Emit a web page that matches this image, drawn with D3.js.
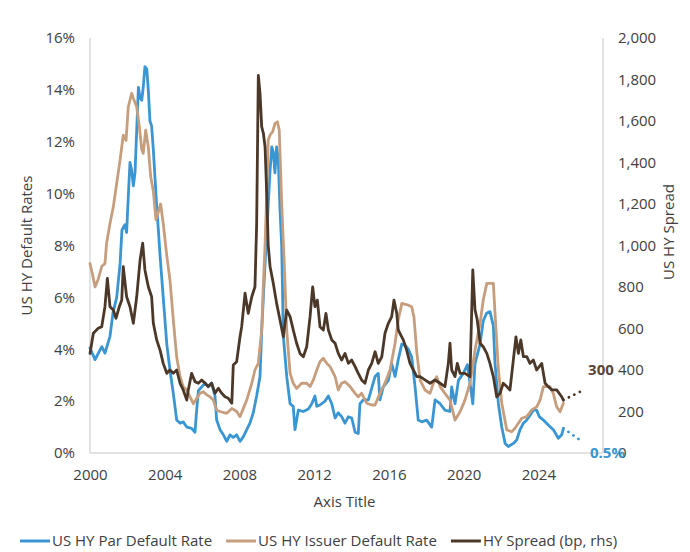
<!DOCTYPE html>
<html>
<head>
<meta charset="utf-8">
<script src="https://cdn.jsdelivr.net/npm/d3@7"></script>
<style>
  html, body { margin: 0; padding: 0; background: #ffffff; }
  svg { display: block; }
  text { font-family: "Open Sans", "Noto Sans", sans-serif; }
</style>
</head>
<body>
<svg id="chart" width="690" height="552"></svg>
<script>
// US high-yield default rates (left axis, %) and HY spread (right axis, bp)

const parDates = [2000.00,2000.27,2000.63,2000.80,2001.07,2001.23,2001.43,2001.61,2001.71,2001.87,2001.96,2002.05,2002.14,2002.23,2002.32,2002.41,2002.50,2002.59,2002.68,2002.77,2002.85,2002.94,2003.04,2003.12,2003.21,2003.30,2003.39,2003.57,2003.66,2003.75,2003.92,2004.11,2004.28,2004.46,2004.64,2004.82,2004.99,2005.18,2005.44,2005.62,2005.71,2005.80,2005.98,2006.16,2006.33,2006.51,2006.69,2006.78,2006.96,2007.14,2007.32,2007.49,2007.67,2007.85,2008.03,2008.21,2008.39,2008.56,2008.74,2008.92,2009.10,2009.19,2009.37,2009.64,2009.73,2009.81,2009.90,2009.99,2010.08,2010.17,2010.26,2010.35,2010.53,2010.71,2010.88,2010.97,2011.15,2011.42,2011.69,2011.87,2012.04,2012.14,2012.31,2012.58,2012.76,2012.94,2013.12,2013.29,2013.47,2013.65,2013.83,2014.01,2014.19,2014.36,2014.45,2014.63,2014.90,2015.26,2015.43,2015.52,2015.70,2015.97,2016.15,2016.33,2016.50,2016.69,2016.86,2017.04,2017.22,2017.40,2017.57,2017.76,2018.02,2018.29,2018.47,2018.74,2019.00,2019.27,2019.36,2019.54,2019.72,2019.98,2020.20,2020.34,2020.49,2020.61,2020.88,2021.05,2021.24,2021.41,2021.59,2021.68,2021.86,2022.04,2022.22,2022.39,2022.66,2022.84,2023.02,2023.20,2023.38,2023.55,2023.73,2023.91,2024.05,2024.27,2024.53,2024.80,2025.07,2025.25,2025.34];
const parRates = [4.05,3.6,4.1,3.85,4.5,5.4,6.0,7.3,8.6,8.8,8.5,9.9,11.2,10.9,10.3,10.8,12.45,14.1,13.7,13.6,14.1,14.9,14.8,14.0,12.8,12.6,11.7,9.5,8.6,7.6,6.0,4.2,3.2,2.3,1.27,1.15,1.2,1.0,0.95,0.8,1.65,2.4,2.55,2.7,2.55,2.7,2.2,1.27,0.9,0.7,0.45,0.7,0.6,0.7,0.45,0.63,0.9,1.15,1.55,2.2,2.95,4.7,7.3,10.9,11.8,11.6,10.8,11.8,11.3,9.4,8.0,4.5,2.95,1.9,1.8,0.9,1.65,1.6,1.7,1.9,2.2,1.8,1.85,2.0,2.2,1.9,1.35,1.55,1.4,1.15,1.4,1.35,0.8,0.75,1.9,2.05,2.05,2.95,3.07,2.05,2.55,2.8,3.45,2.95,3.6,4.2,4.15,4.0,3.7,2.55,1.27,1.2,1.27,1.0,2.05,1.9,1.65,1.6,2.55,1.9,2.8,3.07,3.4,2.7,1.9,3.45,4.2,5.1,5.4,5.45,4.9,3.45,1.9,1.0,0.37,0.25,0.37,0.5,0.9,1.15,1.27,1.45,1.65,1.65,1.4,1.27,1.08,0.9,0.57,0.7,0.95];

const issuerDates = [2000.00,2000.13,2000.27,2000.44,2000.63,2000.80,2000.89,2001.07,2001.25,2001.43,2001.61,2001.78,2001.93,2002.05,2002.23,2002.32,2002.50,2002.64,2002.77,2002.85,2002.98,2003.12,2003.25,2003.39,2003.53,2003.66,2003.78,2003.92,2004.11,2004.28,2004.46,2004.64,2004.82,2004.99,2005.18,2005.35,2005.53,2005.71,2005.89,2006.07,2006.25,2006.42,2006.60,2006.78,2006.96,2007.32,2007.59,2007.85,2008.03,2008.21,2008.39,2008.66,2008.83,2009.01,2009.19,2009.28,2009.37,2009.46,2009.54,2009.64,2009.78,2009.90,2010.03,2010.13,2010.26,2010.39,2010.53,2010.71,2010.88,2011.06,2011.33,2011.60,2011.78,2011.95,2012.14,2012.31,2012.49,2012.67,2012.85,2013.12,2013.29,2013.47,2013.65,2013.92,2014.19,2014.36,2014.54,2014.81,2015.08,2015.26,2015.52,2015.79,2016.06,2016.33,2016.50,2016.69,2017.04,2017.22,2017.34,2017.49,2017.67,2017.93,2018.20,2018.38,2018.56,2018.74,2019.00,2019.27,2019.54,2019.81,2020.07,2020.34,2020.61,2020.88,2021.05,2021.24,2021.59,2021.68,2021.86,2022.04,2022.31,2022.57,2022.75,2022.93,2023.11,2023.38,2023.65,2023.91,2024.09,2024.27,2024.62,2024.80,2024.98,2025.16,2025.34];
const issuerRates = [7.3,6.9,6.4,6.7,7.2,7.3,8.1,8.85,9.5,10.4,11.3,12.25,12.05,13.35,13.87,13.67,13.35,12.58,11.7,11.55,12.45,11.8,10.65,10.1,9.0,9.3,9.6,8.85,7.6,6.67,5.13,3.7,2.95,2.55,2.43,2.17,1.9,2.1,2.3,2.36,2.24,2.17,2.04,1.66,1.6,1.53,1.72,1.6,1.4,1.72,2.04,2.69,3.2,3.46,4.74,6.5,8.0,10.0,12.07,12.26,12.39,12.7,12.77,12.45,9.63,7.44,4.74,3.07,2.69,2.49,2.69,2.69,2.56,2.81,3.2,3.52,3.65,3.46,3.33,2.94,2.43,2.69,2.75,2.56,2.3,2.17,2.3,1.92,1.85,1.85,2.3,2.69,3.2,4.23,5.13,5.77,5.7,5.64,5.25,3.9,2.81,2.43,2.3,2.69,2.94,2.56,2.3,2.04,1.27,1.59,2.04,2.69,3.97,5.0,5.9,6.54,6.54,5.39,3.2,1.92,0.89,0.82,0.95,1.15,1.34,1.4,1.66,1.78,2.04,2.56,2.56,2.3,1.78,1.59,1.92];

const spreadDates = [2000.00,2000.18,2000.44,2000.63,2000.80,2000.93,2001.07,2001.25,2001.39,2001.57,2001.70,2001.78,2001.96,2002.14,2002.32,2002.50,2002.68,2002.82,2002.94,2003.12,2003.30,2003.39,2003.57,2003.75,2003.92,2004.11,2004.28,2004.46,2004.64,2004.82,2004.99,2005.18,2005.26,2005.44,2005.62,2005.80,2005.98,2006.16,2006.33,2006.51,2006.69,2006.87,2007.05,2007.23,2007.40,2007.59,2007.67,2007.85,2008.03,2008.12,2008.30,2008.47,2008.66,2008.83,2008.92,2009.01,2009.10,2009.19,2009.28,2009.37,2009.46,2009.54,2009.64,2009.81,2009.99,2010.17,2010.35,2010.53,2010.71,2010.88,2011.06,2011.24,2011.42,2011.60,2011.78,2011.92,2012.04,2012.17,2012.31,2012.49,2012.63,2012.76,2012.94,2013.12,2013.29,2013.47,2013.65,2013.83,2014.01,2014.19,2014.36,2014.54,2014.72,2014.90,2015.08,2015.26,2015.43,2015.62,2015.79,2015.97,2016.15,2016.27,2016.42,2016.50,2016.59,2016.77,2016.95,2017.13,2017.31,2017.49,2017.67,2017.93,2018.20,2018.47,2018.74,2019.00,2019.18,2019.27,2019.36,2019.54,2019.66,2019.81,2020.07,2020.34,2020.49,2020.61,2020.73,2020.88,2021.05,2021.24,2021.41,2021.59,2021.77,2021.95,2022.12,2022.31,2022.48,2022.66,2022.80,2022.93,2023.06,2023.20,2023.38,2023.55,2023.73,2023.91,2024.18,2024.36,2024.53,2024.72,2024.98,2025.25,2025.34];
const spreadBp = [480,577,601,609,705,842,705,689,649,705,737,898,753,705,625,753,930,1011,882,801,753,625,545,496,432,384,400,384,400,336,304,255,304,384,344,336,352,336,320,336,288,312,288,271,264,240,424,440,560,609,770,673,753,801,1100,1820,1734,1573,1541,1476,1251,1000,898,818,721,641,560,689,657,593,529,480,464,512,657,801,705,737,609,593,673,593,545,529,480,448,480,432,448,416,384,352,336,400,432,488,432,464,577,625,657,737,673,593,577,545,496,432,400,368,368,352,336,352,336,320,432,529,400,368,432,384,384,368,882,689,641,529,512,480,432,368,271,288,336,320,304,448,560,480,545,464,464,432,448,400,432,336,320,304,304,271,255];

// Forecast paths (dotted) and their stated end values
const parForecastDates = [2025.34, 2026.23];
const parForecastRates = [0.95, 0.5];
const spreadForecastDates = [2025.34, 2026.34];
const spreadForecastBp = [255, 300];

const yearTicks = [2000, 2004, 2008, 2012, 2016, 2020, 2024];
const rateTicks = [0, 2, 4, 6, 8, 10, 12, 14, 16];
const spreadTicks = [0, 200, 400, 600, 800, 1000, 1200, 1400, 1600, 1800, 2000];

const seriesNames = ["US HY Par Default Rate", "US HY Issuer Default Rate", "HY Spread (bp, rhs)"];
const seriesColors = ["#3a96d2", "#c69e7d", "#4b3829"];

const svg = d3.select("#chart");
const plot = { left: 90, right: 603, top: 38, bottom: 453 };
const textColor = "#404040";
const fontSize = 15;

const x = d3.scaleLinear().domain([2000, 2027.46]).range([plot.left, plot.right]);
const yL = d3.scaleLinear().domain([0, 16]).range([plot.bottom, plot.top]);
const yR = d3.scaleLinear().domain([0, 2000]).range([plot.bottom, plot.top]);

// Axis frame lines
const frame = svg.append("g").attr("stroke", "#d9d9d9").attr("stroke-width", 1.5);
frame.append("line").attr("x1", plot.left).attr("x2", plot.left).attr("y1", plot.top).attr("y2", plot.bottom);
frame.append("line").attr("x1", plot.right).attr("x2", plot.right).attr("y1", plot.top).attr("y2", plot.bottom);
frame.append("line").attr("x1", plot.left).attr("x2", plot.right).attr("y1", plot.bottom).attr("y2", plot.bottom);

function styleAxis(g) {
  g.select(".domain").remove();
  g.selectAll(".tick line").remove();
  g.selectAll("text").attr("fill", textColor).style("font-size", fontSize + "px")
    .style("font-family", '"Open Sans", "Noto Sans", sans-serif');
}

svg.append("g").attr("transform", `translate(${plot.left},0)`)
  .call(d3.axisLeft(yL).tickValues(rateTicks).tickFormat(d => d + "%").tickSize(0).tickPadding(15))
  .call(styleAxis);

svg.append("g").attr("transform", `translate(${plot.right},0)`)
  .call(d3.axisRight(yR).tickValues(spreadTicks).tickFormat(d3.format(",")).tickSize(0).tickPadding(15))
  .call(styleAxis);

svg.append("g").attr("transform", `translate(0,${plot.bottom})`)
  .call(d3.axisBottom(x).tickValues(yearTicks).tickFormat(d3.format("d")).tickSize(0).tickPadding(16))
  .call(styleAxis);

// Axis titles
svg.append("text").attr("x", (plot.left + plot.right) / 2 - 2).attr("y", 507)
  .attr("text-anchor", "middle").attr("fill", textColor).style("font-size", fontSize + "px")
  .text("Axis Title");
svg.append("text").attr("transform", `translate(32,${(plot.top + plot.bottom) / 2}) rotate(-90)`)
  .attr("text-anchor", "middle").attr("fill", textColor).style("font-size", fontSize + "px")
  .text("US HY Default Rates");
svg.append("text").attr("transform", `translate(674,232) rotate(-90)`)
  .attr("text-anchor", "middle").attr("fill", textColor).style("font-size", fontSize + "px")
  .text("US HY Spread");

// Series lines
const zipPts = (ds, vs) => ds.map((d, i) => [d, vs[i]]);
const lineL = d3.line().x(d => x(d[0])).y(d => yL(d[1]));
const lineR = d3.line().x(d => x(d[0])).y(d => yR(d[1]));

const lines = svg.append("g").attr("fill", "none").attr("stroke-width", 2.8)
  .attr("stroke-linejoin", "round").attr("stroke-linecap", "round");

lines.append("path").attr("d", lineL(zipPts(parDates, parRates))).attr("stroke", seriesColors[0]);
lines.append("path").attr("d", lineL(zipPts(issuerDates, issuerRates))).attr("stroke", seriesColors[1]);
lines.append("path").attr("d", lineR(zipPts(spreadDates, spreadBp))).attr("stroke", seriesColors[2]);

// Dotted forecasts
lines.append("path").attr("d", lineL(zipPts(parForecastDates, parForecastRates)))
  .attr("stroke", seriesColors[0]).attr("stroke-dasharray", "0.1 6");
lines.append("path").attr("d", lineR(zipPts(spreadForecastDates, spreadForecastBp)))
  .attr("stroke", seriesColors[2]).attr("stroke-dasharray", "0.1 6");

// End-value labels
const lastParDate = parForecastDates[parForecastDates.length - 1];
const lastParRate = parForecastRates[parForecastRates.length - 1];
const lastSpreadDate = spreadForecastDates[spreadForecastDates.length - 1];
const lastSpreadBp = spreadForecastBp[spreadForecastBp.length - 1];

svg.append("text").attr("x", x(lastSpreadDate) + 6).attr("y", yR(lastSpreadBp) - 21).attr("dy", "0.35em")
  .attr("fill", "#5a4638").style("font-size", fontSize + "px").style("font-weight", "bold")
  .text(d3.format("d")(lastSpreadBp));
svg.append("text").attr("x", x(lastParDate) + 10).attr("y", yL(lastParRate) + 13).attr("dy", "0.35em")
  .attr("fill", seriesColors[0]).style("font-size", fontSize + "px").style("font-weight", "bold")
  .text(lastParRate + "%");

// Legend
const legend = svg.append("g").attr("transform", "translate(20,541)");
let cursor = 0;
seriesNames.forEach((name, i) => {
  legend.append("line").attr("x1", cursor).attr("x2", cursor + 30).attr("y1", 0).attr("y2", 0)
    .attr("stroke", seriesColors[i]).attr("stroke-width", 3);
  const t = legend.append("text").attr("x", cursor + 32).attr("y", 0).attr("dy", "0.35em")
    .attr("fill", textColor).style("font-size", fontSize + "px").text(name);
  cursor += 32 + t.node().getComputedTextLength() + 14;
});
</script>
</body>
</html>
